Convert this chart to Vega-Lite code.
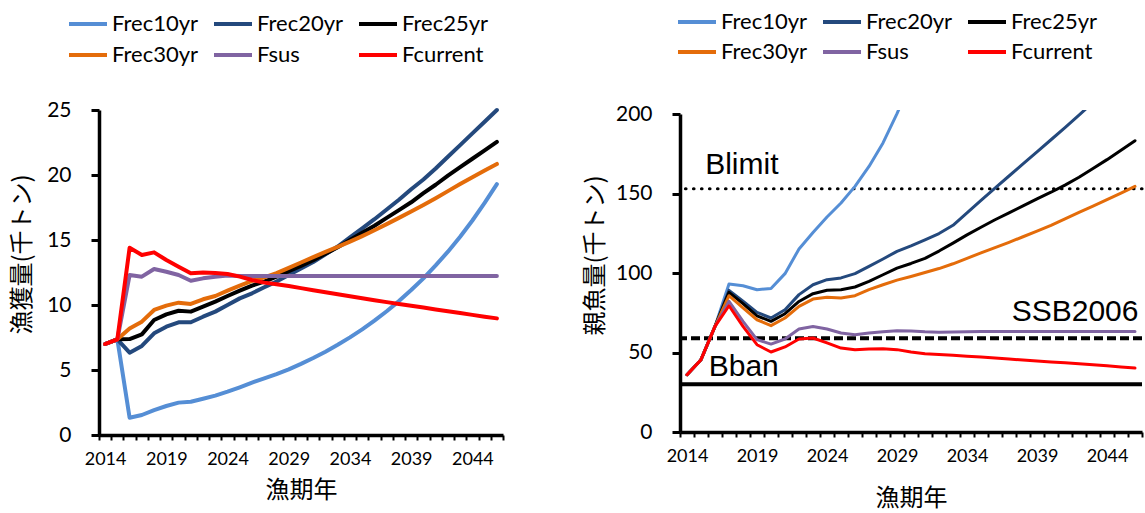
{
  "$schema": "https://vega.github.io/schema/vega-lite/v6.json",
  "background": "white",
  "padding": {"left": 10, "top": 8, "right": 0, "bottom": 0},
  "spacing": 73,
  "config": {
    "view": {"stroke": null},
    "axis": {
      "grid": false,
      "domainColor": "black",
      "tickColor": "black",
      "labelColor": "black",
      "titleColor": "black",
      "labelFont": "Lato",
      "titleFont": "Noto Sans CJK JP",
      "titleFontWeight": "normal",
      "titleFontSize": 24
    },
    "legend": {
      "orient": "none",
      "columns": 3,
      "direction": "horizontal",
      "symbolType": "stroke",
      "symbolSize": 1444,
      "symbolStrokeWidth": 4,
      "labelFont": "Lato",
      "labelFontSize": 22,
      "labelColor": "black",
      "labelOffset": 3,
      "columnPadding": 13,
      "clipHeight": 28,
      "gridAlign": "all",
      "padding": 0,
      "title": null
    }
  },
  "datasets": {
    "fish": [
      {"year": 2014, "scenario": "Frec10yr", "catch": 7.0, "ssb": 36.0},
      {"year": 2015, "scenario": "Frec10yr", "catch": 7.36, "ssb": 45.5},
      {"year": 2016, "scenario": "Frec10yr", "catch": 1.33, "ssb": 66.4},
      {"year": 2017, "scenario": "Frec10yr", "catch": 1.54, "ssb": 93.1},
      {"year": 2018, "scenario": "Frec10yr", "catch": 1.92, "ssb": 92.0},
      {"year": 2019, "scenario": "Frec10yr", "catch": 2.23, "ssb": 89.5},
      {"year": 2020, "scenario": "Frec10yr", "catch": 2.49, "ssb": 90.3},
      {"year": 2021, "scenario": "Frec10yr", "catch": 2.56, "ssb": 99.6},
      {"year": 2022, "scenario": "Frec10yr", "catch": 2.79, "ssb": 115.1},
      {"year": 2023, "scenario": "Frec10yr", "catch": 3.03, "ssb": 125.5},
      {"year": 2024, "scenario": "Frec10yr", "catch": 3.33, "ssb": 135.2},
      {"year": 2025, "scenario": "Frec10yr", "catch": 3.67, "ssb": 144.0},
      {"year": 2026, "scenario": "Frec10yr", "catch": 4.03, "ssb": 154.5},
      {"year": 2027, "scenario": "Frec10yr", "catch": 4.36, "ssb": 167.0},
      {"year": 2028, "scenario": "Frec10yr", "catch": 4.69, "ssb": 181.8},
      {"year": 2029, "scenario": "Frec10yr", "catch": 5.05, "ssb": 200.2},
      {"year": 2030, "scenario": "Frec10yr", "catch": 5.47, "ssb": 221},
      {"year": 2031, "scenario": "Frec10yr", "catch": 5.92, "ssb": 243},
      {"year": 2032, "scenario": "Frec10yr", "catch": 6.41, "ssb": 266},
      {"year": 2033, "scenario": "Frec10yr", "catch": 6.94, "ssb": 290},
      {"year": 2034, "scenario": "Frec10yr", "catch": 7.51, "ssb": 316},
      {"year": 2035, "scenario": "Frec10yr", "catch": 8.13, "ssb": 343},
      {"year": 2036, "scenario": "Frec10yr", "catch": 8.8, "ssb": 372},
      {"year": 2037, "scenario": "Frec10yr", "catch": 9.52, "ssb": 402},
      {"year": 2038, "scenario": "Frec10yr", "catch": 10.3, "ssb": 434},
      {"year": 2039, "scenario": "Frec10yr", "catch": 11.15, "ssb": 468},
      {"year": 2040, "scenario": "Frec10yr", "catch": 12.05, "ssb": 504},
      {"year": 2041, "scenario": "Frec10yr", "catch": 13.05, "ssb": 542},
      {"year": 2042, "scenario": "Frec10yr", "catch": 14.1, "ssb": 582},
      {"year": 2043, "scenario": "Frec10yr", "catch": 15.25, "ssb": 624},
      {"year": 2044, "scenario": "Frec10yr", "catch": 16.5, "ssb": 668},
      {"year": 2045, "scenario": "Frec10yr", "catch": 17.85, "ssb": 714},
      {"year": 2046, "scenario": "Frec10yr", "catch": 19.3, "ssb": 762},

      {"year": 2014, "scenario": "Frec20yr", "catch": 7.0, "ssb": 36.0},
      {"year": 2015, "scenario": "Frec20yr", "catch": 7.36, "ssb": 45.5},
      {"year": 2016, "scenario": "Frec20yr", "catch": 6.33, "ssb": 66.4},
      {"year": 2017, "scenario": "Frec20yr", "catch": 6.85, "ssb": 89.1},
      {"year": 2018, "scenario": "Frec20yr", "catch": 7.82, "ssb": 82.2},
      {"year": 2019, "scenario": "Frec20yr", "catch": 8.33, "ssb": 75.2},
      {"year": 2020, "scenario": "Frec20yr", "catch": 8.67, "ssb": 71.7},
      {"year": 2021, "scenario": "Frec20yr", "catch": 8.67, "ssb": 76.9},
      {"year": 2022, "scenario": "Frec20yr", "catch": 9.1, "ssb": 86.4},
      {"year": 2023, "scenario": "Frec20yr", "catch": 9.49, "ssb": 92.6},
      {"year": 2024, "scenario": "Frec20yr", "catch": 10.0, "ssb": 95.8},
      {"year": 2025, "scenario": "Frec20yr", "catch": 10.51, "ssb": 96.9},
      {"year": 2026, "scenario": "Frec20yr", "catch": 10.9, "ssb": 99.6},
      {"year": 2027, "scenario": "Frec20yr", "catch": 11.36, "ssb": 104.2},
      {"year": 2028, "scenario": "Frec20yr", "catch": 11.8, "ssb": 108.8},
      {"year": 2029, "scenario": "Frec20yr", "catch": 12.3, "ssb": 113.6},
      {"year": 2030, "scenario": "Frec20yr", "catch": 12.8, "ssb": 117.0},
      {"year": 2031, "scenario": "Frec20yr", "catch": 13.3, "ssb": 120.8},
      {"year": 2032, "scenario": "Frec20yr", "catch": 13.9, "ssb": 124.8},
      {"year": 2033, "scenario": "Frec20yr", "catch": 14.5, "ssb": 130.0},
      {"year": 2034, "scenario": "Frec20yr", "catch": 15.2, "ssb": 137.8},
      {"year": 2035, "scenario": "Frec20yr", "catch": 15.9, "ssb": 145.6},
      {"year": 2036, "scenario": "Frec20yr", "catch": 16.6, "ssb": 153.4},
      {"year": 2037, "scenario": "Frec20yr", "catch": 17.35, "ssb": 161.0},
      {"year": 2038, "scenario": "Frec20yr", "catch": 18.1, "ssb": 168.6},
      {"year": 2039, "scenario": "Frec20yr", "catch": 18.9, "ssb": 176.2},
      {"year": 2040, "scenario": "Frec20yr", "catch": 19.65, "ssb": 183.8},
      {"year": 2041, "scenario": "Frec20yr", "catch": 20.5, "ssb": 191.5},
      {"year": 2042, "scenario": "Frec20yr", "catch": 21.4, "ssb": 199.3},
      {"year": 2043, "scenario": "Frec20yr", "catch": 22.3, "ssb": 207.3},
      {"year": 2044, "scenario": "Frec20yr", "catch": 23.2, "ssb": 215.5},
      {"year": 2045, "scenario": "Frec20yr", "catch": 24.1, "ssb": 224.0},
      {"year": 2046, "scenario": "Frec20yr", "catch": 25.0, "ssb": 232.7},

      {"year": 2014, "scenario": "Frec25yr", "catch": 7.0, "ssb": 36.0},
      {"year": 2015, "scenario": "Frec25yr", "catch": 7.36, "ssb": 45.5},
      {"year": 2016, "scenario": "Frec25yr", "catch": 7.38, "ssb": 66.4},
      {"year": 2017, "scenario": "Frec25yr", "catch": 7.74, "ssb": 87.8},
      {"year": 2018, "scenario": "Frec25yr", "catch": 8.85, "ssb": 80.7},
      {"year": 2019, "scenario": "Frec25yr", "catch": 9.28, "ssb": 73.1},
      {"year": 2020, "scenario": "Frec25yr", "catch": 9.56, "ssb": 69.6},
      {"year": 2021, "scenario": "Frec25yr", "catch": 9.49, "ssb": 74.4},
      {"year": 2022, "scenario": "Frec25yr", "catch": 9.87, "ssb": 82.1},
      {"year": 2023, "scenario": "Frec25yr", "catch": 10.26, "ssb": 87.0},
      {"year": 2024, "scenario": "Frec25yr", "catch": 10.69, "ssb": 89.1},
      {"year": 2025, "scenario": "Frec25yr", "catch": 11.1, "ssb": 89.5},
      {"year": 2026, "scenario": "Frec25yr", "catch": 11.49, "ssb": 91.2},
      {"year": 2027, "scenario": "Frec25yr", "catch": 11.8, "ssb": 94.7},
      {"year": 2028, "scenario": "Frec25yr", "catch": 12.18, "ssb": 98.9},
      {"year": 2029, "scenario": "Frec25yr", "catch": 12.6, "ssb": 103.1},
      {"year": 2030, "scenario": "Frec25yr", "catch": 13.0, "ssb": 106.0},
      {"year": 2031, "scenario": "Frec25yr", "catch": 13.45, "ssb": 109.2},
      {"year": 2032, "scenario": "Frec25yr", "catch": 13.95, "ssb": 113.8},
      {"year": 2033, "scenario": "Frec25yr", "catch": 14.45, "ssb": 118.8},
      {"year": 2034, "scenario": "Frec25yr", "catch": 15.0, "ssb": 124.0},
      {"year": 2035, "scenario": "Frec25yr", "catch": 15.55, "ssb": 128.8},
      {"year": 2036, "scenario": "Frec25yr", "catch": 16.1, "ssb": 133.5},
      {"year": 2037, "scenario": "Frec25yr", "catch": 16.7, "ssb": 137.8},
      {"year": 2038, "scenario": "Frec25yr", "catch": 17.3, "ssb": 142.2},
      {"year": 2039, "scenario": "Frec25yr", "catch": 17.9, "ssb": 146.6},
      {"year": 2040, "scenario": "Frec25yr", "catch": 18.6, "ssb": 150.8},
      {"year": 2041, "scenario": "Frec25yr", "catch": 19.25, "ssb": 155.3},
      {"year": 2042, "scenario": "Frec25yr", "catch": 19.95, "ssb": 160.2},
      {"year": 2043, "scenario": "Frec25yr", "catch": 20.6, "ssb": 165.7},
      {"year": 2044, "scenario": "Frec25yr", "catch": 21.25, "ssb": 171.3},
      {"year": 2045, "scenario": "Frec25yr", "catch": 21.9, "ssb": 177.2},
      {"year": 2046, "scenario": "Frec25yr", "catch": 22.55, "ssb": 183.2},

      {"year": 2014, "scenario": "Frec30yr", "catch": 7.0, "ssb": 36.0},
      {"year": 2015, "scenario": "Frec30yr", "catch": 7.36, "ssb": 45.5},
      {"year": 2016, "scenario": "Frec30yr", "catch": 8.2, "ssb": 66.4},
      {"year": 2017, "scenario": "Frec30yr", "catch": 8.72, "ssb": 85.7},
      {"year": 2018, "scenario": "Frec30yr", "catch": 9.62, "ssb": 78.0},
      {"year": 2019, "scenario": "Frec30yr", "catch": 9.95, "ssb": 70.6},
      {"year": 2020, "scenario": "Frec30yr", "catch": 10.18, "ssb": 66.9},
      {"year": 2021, "scenario": "Frec30yr", "catch": 10.08, "ssb": 71.7},
      {"year": 2022, "scenario": "Frec30yr", "catch": 10.44, "ssb": 79.0},
      {"year": 2023, "scenario": "Frec30yr", "catch": 10.69, "ssb": 83.6},
      {"year": 2024, "scenario": "Frec30yr", "catch": 11.1, "ssb": 84.7},
      {"year": 2025, "scenario": "Frec30yr", "catch": 11.49, "ssb": 84.3},
      {"year": 2026, "scenario": "Frec30yr", "catch": 11.85, "ssb": 85.7},
      {"year": 2027, "scenario": "Frec30yr", "catch": 12.13, "ssb": 89.5},
      {"year": 2028, "scenario": "Frec30yr", "catch": 12.45, "ssb": 92.6},
      {"year": 2029, "scenario": "Frec30yr", "catch": 12.86, "ssb": 95.5},
      {"year": 2030, "scenario": "Frec30yr", "catch": 13.27, "ssb": 97.8},
      {"year": 2031, "scenario": "Frec30yr", "catch": 13.68, "ssb": 100.3},
      {"year": 2032, "scenario": "Frec30yr", "catch": 14.08, "ssb": 102.8},
      {"year": 2033, "scenario": "Frec30yr", "catch": 14.47, "ssb": 105.8},
      {"year": 2034, "scenario": "Frec30yr", "catch": 14.87, "ssb": 109.2},
      {"year": 2035, "scenario": "Frec30yr", "catch": 15.3, "ssb": 112.7},
      {"year": 2036, "scenario": "Frec30yr", "catch": 15.75, "ssb": 116.0},
      {"year": 2037, "scenario": "Frec30yr", "catch": 16.22, "ssb": 119.3},
      {"year": 2038, "scenario": "Frec30yr", "catch": 16.7, "ssb": 122.8},
      {"year": 2039, "scenario": "Frec30yr", "catch": 17.2, "ssb": 126.3},
      {"year": 2040, "scenario": "Frec30yr", "catch": 17.7, "ssb": 130.0},
      {"year": 2041, "scenario": "Frec30yr", "catch": 18.22, "ssb": 134.0},
      {"year": 2042, "scenario": "Frec30yr", "catch": 18.76, "ssb": 138.1},
      {"year": 2043, "scenario": "Frec30yr", "catch": 19.3, "ssb": 142.0},
      {"year": 2044, "scenario": "Frec30yr", "catch": 19.83, "ssb": 146.1},
      {"year": 2045, "scenario": "Frec30yr", "catch": 20.35, "ssb": 150.3},
      {"year": 2046, "scenario": "Frec30yr", "catch": 20.85, "ssb": 154.5},

      {"year": 2014, "scenario": "Fsus", "catch": 7.0, "ssb": 36.0},
      {"year": 2015, "scenario": "Fsus", "catch": 7.36, "ssb": 45.5},
      {"year": 2016, "scenario": "Fsus", "catch": 12.3, "ssb": 66.4},
      {"year": 2017, "scenario": "Fsus", "catch": 12.18, "ssb": 82.2},
      {"year": 2018, "scenario": "Fsus", "catch": 12.77, "ssb": 69.6},
      {"year": 2019, "scenario": "Fsus", "catch": 12.56, "ssb": 58.1},
      {"year": 2020, "scenario": "Fsus", "catch": 12.31, "ssb": 55.3},
      {"year": 2021, "scenario": "Fsus", "catch": 11.87, "ssb": 58.5},
      {"year": 2022, "scenario": "Fsus", "catch": 12.05, "ssb": 64.8},
      {"year": 2023, "scenario": "Fsus", "catch": 12.18, "ssb": 66.4},
      {"year": 2024, "scenario": "Fsus", "catch": 12.26, "ssb": 64.8},
      {"year": 2025, "scenario": "Fsus", "catch": 12.23, "ssb": 62.3},
      {"year": 2026, "scenario": "Fsus", "catch": 12.23, "ssb": 61.2},
      {"year": 2027, "scenario": "Fsus", "catch": 12.23, "ssb": 62.3},
      {"year": 2028, "scenario": "Fsus", "catch": 12.23, "ssb": 63.1},
      {"year": 2029, "scenario": "Fsus", "catch": 12.23, "ssb": 63.7},
      {"year": 2030, "scenario": "Fsus", "catch": 12.23, "ssb": 63.5},
      {"year": 2031, "scenario": "Fsus", "catch": 12.23, "ssb": 63.0},
      {"year": 2032, "scenario": "Fsus", "catch": 12.23, "ssb": 62.8},
      {"year": 2033, "scenario": "Fsus", "catch": 12.23, "ssb": 62.9},
      {"year": 2034, "scenario": "Fsus", "catch": 12.23, "ssb": 63.1},
      {"year": 2035, "scenario": "Fsus", "catch": 12.23, "ssb": 63.2},
      {"year": 2036, "scenario": "Fsus", "catch": 12.23, "ssb": 63.2},
      {"year": 2037, "scenario": "Fsus", "catch": 12.23, "ssb": 63.2},
      {"year": 2038, "scenario": "Fsus", "catch": 12.23, "ssb": 63.2},
      {"year": 2039, "scenario": "Fsus", "catch": 12.23, "ssb": 63.2},
      {"year": 2040, "scenario": "Fsus", "catch": 12.23, "ssb": 63.2},
      {"year": 2041, "scenario": "Fsus", "catch": 12.23, "ssb": 63.2},
      {"year": 2042, "scenario": "Fsus", "catch": 12.23, "ssb": 63.2},
      {"year": 2043, "scenario": "Fsus", "catch": 12.23, "ssb": 63.2},
      {"year": 2044, "scenario": "Fsus", "catch": 12.23, "ssb": 63.2},
      {"year": 2045, "scenario": "Fsus", "catch": 12.23, "ssb": 63.2},
      {"year": 2046, "scenario": "Fsus", "catch": 12.23, "ssb": 63.2},

      {"year": 2014, "scenario": "Fcurrent", "catch": 7.0, "ssb": 36.0},
      {"year": 2015, "scenario": "Fcurrent", "catch": 7.36, "ssb": 45.5},
      {"year": 2016, "scenario": "Fcurrent", "catch": 14.4, "ssb": 66.4},
      {"year": 2017, "scenario": "Fcurrent", "catch": 13.85, "ssb": 79.4},
      {"year": 2018, "scenario": "Fcurrent", "catch": 14.05, "ssb": 66.4},
      {"year": 2019, "scenario": "Fcurrent", "catch": 13.46, "ssb": 54.9},
      {"year": 2020, "scenario": "Fcurrent", "catch": 12.95, "ssb": 50.3},
      {"year": 2021, "scenario": "Fcurrent", "catch": 12.44, "ssb": 53.5},
      {"year": 2022, "scenario": "Fcurrent", "catch": 12.5, "ssb": 58.5},
      {"year": 2023, "scenario": "Fcurrent", "catch": 12.47, "ssb": 59.1},
      {"year": 2024, "scenario": "Fcurrent", "catch": 12.38, "ssb": 56.0},
      {"year": 2025, "scenario": "Fcurrent", "catch": 12.18, "ssb": 52.8},
      {"year": 2026, "scenario": "Fcurrent", "catch": 11.92, "ssb": 51.8},
      {"year": 2027, "scenario": "Fcurrent", "catch": 11.72, "ssb": 52.2},
      {"year": 2028, "scenario": "Fcurrent", "catch": 11.59, "ssb": 52.4},
      {"year": 2029, "scenario": "Fcurrent", "catch": 11.46, "ssb": 51.8},
      {"year": 2030, "scenario": "Fcurrent", "catch": 11.3, "ssb": 50.3},
      {"year": 2031, "scenario": "Fcurrent", "catch": 11.14, "ssb": 49.2},
      {"year": 2032, "scenario": "Fcurrent", "catch": 10.98, "ssb": 48.7},
      {"year": 2033, "scenario": "Fcurrent", "catch": 10.82, "ssb": 48.2},
      {"year": 2034, "scenario": "Fcurrent", "catch": 10.67, "ssb": 47.7},
      {"year": 2035, "scenario": "Fcurrent", "catch": 10.52, "ssb": 47.1},
      {"year": 2036, "scenario": "Fcurrent", "catch": 10.37, "ssb": 46.5},
      {"year": 2037, "scenario": "Fcurrent", "catch": 10.22, "ssb": 45.9},
      {"year": 2038, "scenario": "Fcurrent", "catch": 10.08, "ssb": 45.3},
      {"year": 2039, "scenario": "Fcurrent", "catch": 9.94, "ssb": 44.7},
      {"year": 2040, "scenario": "Fcurrent", "catch": 9.8, "ssb": 44.1},
      {"year": 2041, "scenario": "Fcurrent", "catch": 9.66, "ssb": 43.5},
      {"year": 2042, "scenario": "Fcurrent", "catch": 9.52, "ssb": 42.9},
      {"year": 2043, "scenario": "Fcurrent", "catch": 9.38, "ssb": 42.3},
      {"year": 2044, "scenario": "Fcurrent", "catch": 9.24, "ssb": 41.6},
      {"year": 2045, "scenario": "Fcurrent", "catch": 9.1, "ssb": 40.9},
      {"year": 2046, "scenario": "Fcurrent", "catch": 8.97, "ssb": 40.2}
    ],
    "refs": [
      {"ref": "Blimit", "ssb": 153},
      {"ref": "SSB2006", "ssb": 59},
      {"ref": "Bban", "ssb": 30}
    ]
  },
  "resolve": {"scale": {"color": "independent"}, "legend": {"color": "independent"}},
  "hconcat": [
    {
      "width": 404,
      "height": 325,
      "data": {"name": "fish"},
      "mark": {"type": "line", "strokeWidth": 4, "strokeJoin": "round", "strokeCap": "round"},
      "encoding": {
        "x": {
          "field": "year",
          "type": "quantitative",
          "scale": {"domain": [2013.5, 2046.5], "nice": false, "zero": false},
          "axis": {
            "title": "漁期年",
            "values": [2013.5, 2014.5, 2015.5, 2016.5, 2017.5, 2018.5, 2019.5, 2020.5, 2021.5, 2022.5, 2023.5, 2024.5, 2025.5, 2026.5, 2027.5, 2028.5, 2029.5, 2030.5, 2031.5, 2032.5, 2033.5, 2034.5, 2035.5, 2036.5, 2037.5, 2038.5, 2039.5, 2040.5, 2041.5, 2042.5, 2043.5, 2044.5, 2045.5, 2046.5],
            "labelExpr": "(datum.value + 0.5 - 2014) % 5 == 0 ? format(datum.value + 0.5, 'd') : ''",
            "labelOffset": 6.1,
            "labelOverlap": false,
            "labelFlush": false,
            "labelFontSize": 18,
            "labelPadding": 10,
            "tickSize": 5,
            "tickWidth": 2,
            "domainWidth": 3.5,
            "titlePadding": 10
          }
        },
        "y": {
          "field": "catch",
          "type": "quantitative",
          "scale": {"domain": [0, 25], "nice": false},
          "axis": {
            "title": "漁獲量(千トン)",
            "values": [0, 5, 10, 15, 20, 25],
            "labelFontSize": 21,
            "labelPadding": 20,
            "tickSize": 8,
            "tickWidth": 3,
            "domainWidth": 3.5,
            "titlePadding": 12,
            "titleY": 144
          }
        },
        "color": {
          "field": "scenario",
          "type": "nominal",
          "scale": {
            "domain": ["Frec10yr", "Frec20yr", "Frec25yr", "Frec30yr", "Fsus", "Fcurrent"],
            "range": ["#558ED5", "#24497D", "#000000", "#E46C0A", "#8064A2", "#FF0000"]
          },
          "legend": {"legendX": -32, "legendY": -100, "rowPadding": 3}
        }
      }
    },
    {
      "width": 462,
      "height": 322,
      "layer": [
        {
          "data": {"name": "refs"},
          "transform": [{"filter": "datum.ref == 'Bban'"}],
          "mark": {"type": "rule", "strokeWidth": 4, "color": "black"},
          "encoding": {
            "y": {"field": "ssb", "type": "quantitative", "scale": {"domain": [0, 200], "nice": false, "range": [322, 4]}}
          }
        },
        {
          "data": {"name": "refs"},
          "transform": [{"filter": "datum.ref == 'SSB2006'"}],
          "mark": {"type": "rule", "strokeWidth": 4, "color": "black", "strokeDash": [9, 4]},
          "encoding": {"y": {"field": "ssb", "type": "quantitative"}}
        },
        {
          "data": {"name": "refs"},
          "transform": [{"filter": "datum.ref == 'Blimit'"}],
          "mark": {"type": "rule", "strokeWidth": 3.2, "color": "black", "strokeDash": [0.5, 7.5], "strokeCap": "round"},
          "encoding": {"y": {"field": "ssb", "type": "quantitative"}}
        },
        {
          "data": {"name": "fish"},
          "mark": {"type": "line", "strokeWidth": 3, "strokeJoin": "round", "strokeCap": "round", "clip": true},
          "encoding": {
            "x": {
              "field": "year",
              "type": "quantitative",
              "scale": {"domain": [2013.5, 2046.5], "nice": false, "zero": false},
              "axis": {
                "title": "漁期年",
                "values": [2013.5, 2014.5, 2015.5, 2016.5, 2017.5, 2018.5, 2019.5, 2020.5, 2021.5, 2022.5, 2023.5, 2024.5, 2025.5, 2026.5, 2027.5, 2028.5, 2029.5, 2030.5, 2031.5, 2032.5, 2033.5, 2034.5, 2035.5, 2036.5, 2037.5, 2038.5, 2039.5, 2040.5, 2041.5, 2042.5, 2043.5, 2044.5, 2045.5, 2046.5],
                "labelExpr": "(datum.value + 0.5 - 2014) % 5 == 0 ? format(datum.value + 0.5, 'd') : ''",
                "labelOffset": 7,
                "labelOverlap": false,
                "labelFlush": false,
                "labelFontSize": 18,
                "labelPadding": 10,
                "tickSize": 5,
                "tickWidth": 2,
                "domainWidth": 3.5,
                "titlePadding": 21
              }
            },
            "y": {
              "field": "ssb",
              "type": "quantitative",
              "axis": {
                "title": "親魚量(千トン)",
                "values": [0, 50, 100, 150, 200],
                "labelFontSize": 21,
                "labelPadding": 20,
                "tickSize": 8,
                "tickWidth": 3,
                "domainWidth": 3.5,
                "titlePadding": 8,
                "titleY": 145
              }
            },
            "color": {
              "field": "scenario",
              "type": "nominal",
              "scale": {
                "domain": ["Frec10yr", "Frec20yr", "Frec25yr", "Frec30yr", "Fsus", "Fcurrent"],
                "range": ["#558ED5", "#24497D", "#000000", "#E46C0A", "#8064A2", "#FF0000"]
              },
              "legend": {"legendX": -4, "legendY": -102, "rowPadding": 2}
            }
          }
        },
        {
          "data": {"name": "refs"},
          "transform": [{"filter": "datum.ref == 'Blimit'"}],
          "mark": {"type": "text", "font": "Liberation Sans", "fontSize": 30, "align": "left", "baseline": "alphabetic", "dy": -15, "color": "black"},
          "encoding": {
            "x": {
              "datum": 2015.3,
              "type": "quantitative",
              "axis": {
                "title": "漁期年",
                "values": [2013.5, 2014.5, 2015.5, 2016.5, 2017.5, 2018.5, 2019.5, 2020.5, 2021.5, 2022.5, 2023.5, 2024.5, 2025.5, 2026.5, 2027.5, 2028.5, 2029.5, 2030.5, 2031.5, 2032.5, 2033.5, 2034.5, 2035.5, 2036.5, 2037.5, 2038.5, 2039.5, 2040.5, 2041.5, 2042.5, 2043.5, 2044.5, 2045.5, 2046.5],
                "labelExpr": "(datum.value + 0.5 - 2014) % 5 == 0 ? format(datum.value + 0.5, 'd') : ''",
                "labelOffset": 7,
                "labelOverlap": false,
                "labelFlush": false,
                "labelFontSize": 18,
                "labelPadding": 10,
                "tickSize": 5,
                "tickWidth": 2,
                "domainWidth": 3.5,
                "titlePadding": 21
              }
            },
            "y": {"field": "ssb", "type": "quantitative"},
            "text": {"field": "ref"}
          }
        },
        {
          "data": {"name": "refs"},
          "transform": [{"filter": "datum.ref == 'SSB2006'"}],
          "mark": {"type": "text", "font": "Liberation Sans", "fontSize": 30, "align": "right", "baseline": "alphabetic", "dy": -17, "color": "black"},
          "encoding": {
            "x": {
              "datum": 2046.25,
              "type": "quantitative",
              "axis": {
                "title": "漁期年",
                "values": [2013.5, 2014.5, 2015.5, 2016.5, 2017.5, 2018.5, 2019.5, 2020.5, 2021.5, 2022.5, 2023.5, 2024.5, 2025.5, 2026.5, 2027.5, 2028.5, 2029.5, 2030.5, 2031.5, 2032.5, 2033.5, 2034.5, 2035.5, 2036.5, 2037.5, 2038.5, 2039.5, 2040.5, 2041.5, 2042.5, 2043.5, 2044.5, 2045.5, 2046.5],
                "labelExpr": "(datum.value + 0.5 - 2014) % 5 == 0 ? format(datum.value + 0.5, 'd') : ''",
                "labelOffset": 7,
                "labelOverlap": false,
                "labelFlush": false,
                "labelFontSize": 18,
                "labelPadding": 10,
                "tickSize": 5,
                "tickWidth": 2,
                "domainWidth": 3.5,
                "titlePadding": 21
              }
            },
            "y": {"field": "ssb", "type": "quantitative"},
            "text": {"field": "ref"}
          }
        },
        {
          "data": {"name": "refs"},
          "transform": [{"filter": "datum.ref == 'Bban'"}],
          "mark": {"type": "text", "font": "Liberation Sans", "fontSize": 30, "align": "left", "baseline": "alphabetic", "dy": -8, "color": "black"},
          "encoding": {
            "x": {
              "datum": 2015.55,
              "type": "quantitative",
              "axis": {
                "title": "漁期年",
                "values": [2013.5, 2014.5, 2015.5, 2016.5, 2017.5, 2018.5, 2019.5, 2020.5, 2021.5, 2022.5, 2023.5, 2024.5, 2025.5, 2026.5, 2027.5, 2028.5, 2029.5, 2030.5, 2031.5, 2032.5, 2033.5, 2034.5, 2035.5, 2036.5, 2037.5, 2038.5, 2039.5, 2040.5, 2041.5, 2042.5, 2043.5, 2044.5, 2045.5, 2046.5],
                "labelExpr": "(datum.value + 0.5 - 2014) % 5 == 0 ? format(datum.value + 0.5, 'd') : ''",
                "labelOffset": 7,
                "labelOverlap": false,
                "labelFlush": false,
                "labelFontSize": 18,
                "labelPadding": 10,
                "tickSize": 5,
                "tickWidth": 2,
                "domainWidth": 3.5,
                "titlePadding": 21
              }
            },
            "y": {"field": "ssb", "type": "quantitative"},
            "text": {"field": "ref"}
          }
        }
      ]
    }
  ]
}
